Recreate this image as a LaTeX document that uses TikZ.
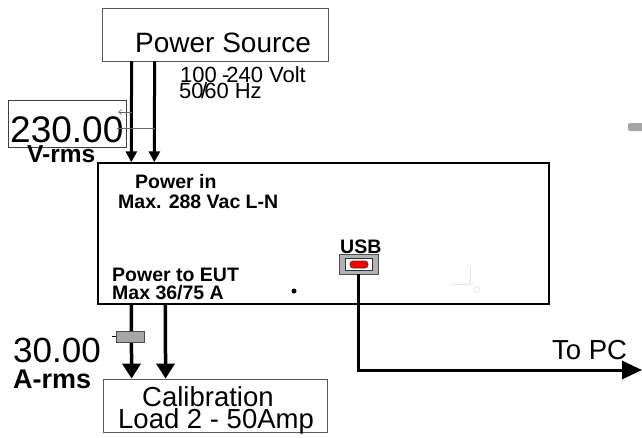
\documentclass[tikz,border=0pt]{standalone}
\usepackage{fontspec}
\setmainfont{Liberation Sans}
\usetikzlibrary{arrows.meta}

\begin{document}
\begin{tikzpicture}[x=1pt, y=-1pt,
    box/.style={draw=black!65, line width=0.8pt, inner sep=0pt},
    unitbox/.style={draw, line width=1.4pt, inner sep=0pt},
    txt/.style={anchor=base west, inner sep=0pt},
    note/.style={txt, font=\fontsize{19.5}{20}\selectfont\bfseries},
    flowin/.style={-{Triangle[length=11pt, width=11pt]}, line width=3pt},
    flowout/.style={-{Triangle[length=15pt, width=18pt]}, line width=3.5pt},
    cable/.style={-{Triangle[length=20pt, width=18pt]}, line width=3pt},
    lead/.style={draw=black!60, line width=0.6pt},
]
    \useasboundingbox (0,0) rectangle (642,437);

    % boxes
    \node[box, minimum width=226pt, minimum height=53pt] (src) at (215,34.5) {};
    \node[unitbox, minimum width=451pt, minimum height=141pt] (unit) at (323.5,233.5) {};
    \node[box, minimum width=224pt, minimum height=53pt] (cal) at (215,405.5) {};
    \node[box, draw=black!75, minimum width=118pt, minimum height=47pt] (meter) at (67,123.5) {};

    % texts
    \node[txt, font=\fontsize{28}{30}\selectfont] (srcname) at (135,52) {Power Source};
    \node[txt, font=\fontsize{22}{24}\selectfont] (range) at (180,82) {100 \kern-1pt-\kern-3pt240 Volt};
    \node[txt, font=\fontsize{22}{24}\selectfont] (freq) at (179,98) {50\kern-2.5pt/\kern-3pt60 Hz};
    \node[txt, font=\fontsize{37}{38}\selectfont] (volt) at (10,142) {230.00};
    \node[txt, font=\fontsize{24.5}{25}\selectfont\bfseries] (vunit) at (27,162) {V-rms};
    \node[note] (pin) at (135,188) {Power in};
    \node[note] (pmax) at (118,208) {Max. 288 Vac L-N};
    \node[note] (pout) at (112,281) {Power to EUT};
    \node[note] (omax) at (112,299) {Max 36/75 A};
    \node[note] (usbname) at (340,253) {USB};
    \node[txt, font=\fontsize{35}{36}\selectfont] (amp) at (13,362) {30.00};
    \node[txt, font=\fontsize{27}{28}\selectfont\bfseries] (aunit) at (13,388) {A-rms};
    \node[txt, font=\fontsize{27.5}{28}\selectfont] (calA) at (142,406) {Calibration};
    \node[txt, font=\fontsize{27.5}{28}\selectfont] (calB) at (118,428) {Load 2 - 50Amp};
    \node[txt, font=\fontsize{27.5}{28}\selectfont] (topc) at (552,359) {To PC};

    % usb port
    \node[draw=black!70, fill=black!30, line width=0.8pt, minimum width=39pt, minimum height=20pt, inner sep=0pt] (usb) at (358.5,264) {};
    \node[draw=black!80, fill=white, line width=0.8pt, minimum width=27pt, minimum height=12pt, inner sep=0pt] (usbin) at (358.5,264) {};
    \node[draw=black!80, fill=red, line width=0.6pt, rounded corners=3pt, minimum width=18pt, minimum height=7pt, inner sep=0pt] (usbled) at (359,264.5) {};

    % power lines
    \draw[flowin] ([xshift=30pt]src.south west) -- ([xshift=34pt]unit.north west);
    \draw[flowin] ([xshift=53pt]src.south west) -- ([xshift=57pt]unit.north west);
    \draw[flowout] ([xshift=34pt]unit.south west) -- ([xshift=29pt]cal.north west);
    \draw[flowout] ([xshift=68pt]unit.south west) -- ([xshift=63pt]cal.north west);

    % meter leads
    \coordinate (tapL) at (132,112);
    \coordinate (tapN) at (155,128);
    \draw[lead, {Straight Barb[length=3pt, width=5pt]}-] (118,112) -- (tapL);
    \draw[lead] (117,128) -- (tapN);

    % current clamp
    \node[draw=black!70, fill=black!35, line width=0.6pt, minimum width=28pt, minimum height=11pt, inner sep=0pt] (clamp) at (130,336.5) {};
    \draw[line width=0.8pt] (clamp.west) -- ++(-4,0);

    % usb cable
    \coordinate (pc) at (642,370);
    \draw[cable] (usb.south) |- (pc);

    % marks
    \fill (294,291) circle (2.5pt);
    \fill[black!35, rounded corners=2pt] (628,123) rectangle (644,131);
    \draw[black!10, line width=0.6pt] (470,267) -- (470,284) -- (451,284);
    \draw[black!10, line width=0.6pt] (477,290) circle (3pt);
\end{tikzpicture}
\end{document}
